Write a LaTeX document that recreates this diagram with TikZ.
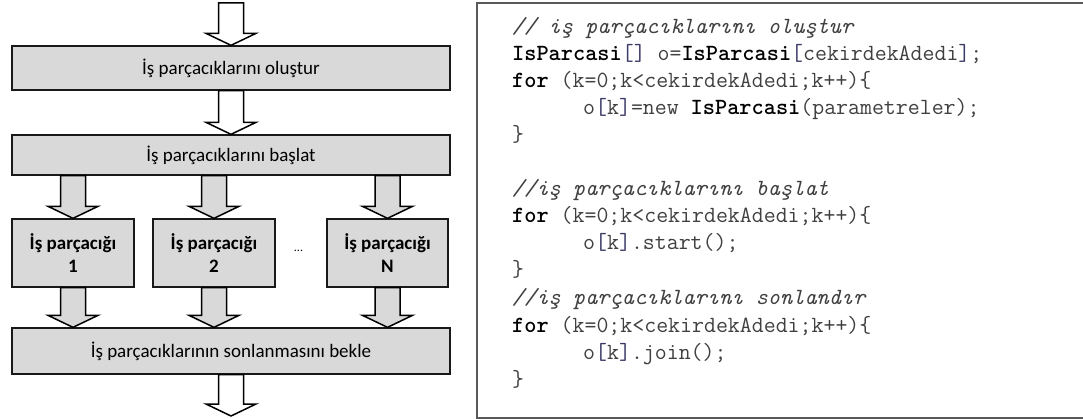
\documentclass[tikz,border=0pt]{standalone}
\usepackage{fontspec}
\setmainfont{Carlito}
\usepackage{xcolor}
\usetikzlibrary{positioning,calc}

\definecolor{boxgray}{HTML}{D9D9D9}
\definecolor{codegray}{HTML}{404040}
\definecolor{codebrack}{HTML}{3A3A66}

\newcommand{\kw}[1]{\textbf{\color{black}#1}}
% block arrow: shaft at the x of #2, tip at #3
\newcommand{\blockarrow}[3][white]{%
  \draw[blockarr, fill=#1] let \p1=(#2), \p2=(#3) in
    (\x1-12.5pt,\y1) -- (\x1-12.5pt,\y2+12pt) -- (\x1-25pt,\y2+12pt) -- (\x1,\y2)
    -- (\x1+25pt,\y2+12pt) -- (\x1+12.5pt,\y2+12pt) -- (\x1+12.5pt,\y1) -- cycle;}

\tikzset{
  stepbox/.style={draw=black!90, fill=boxgray, line width=1.3pt, inner sep=0pt,
    minimum width=438pt, font=\fontsize{19}{23}\selectfont, align=center},
  threadbox/.style={stepbox, minimum width=122pt, minimum height=68pt,
    font=\bfseries\fontsize{19}{23}\selectfont},
  blockarr/.style={draw=black, line width=1.5pt, line join=miter},
  codeline/.style={anchor=base west, inner sep=0pt,
    font=\ttfamily\fontsize{23.2}{27}\selectfont, text=codegray},
  codeframe/.style={draw=black!65, line width=1.6pt},
}

\begin{document}
\begin{tikzpicture}[x=1pt,y=-1pt]
  \useasboundingbox (0,0) rectangle (1083,419);

  % flow chart
  \node[stepbox, minimum height=44pt] (create) at (231,68) {İş parçacıklarını oluştur};
  \node[stepbox, minimum height=40pt] (start) at (231,155) {İş parçacıklarını başlat};
  \node[threadbox] (th1) at (73,253) {İş parçacığı\\1};
  \node[threadbox] (th2) at (214,253) {İş parçacığı\\2};
  \node[threadbox, minimum width=121pt] (thN) at (387.5,253) {İş parçacığı\\N};
  \node[font=\fontsize{12}{12}\selectfont] (dots) at (298.5,251) {...};
  \node[stepbox, minimum height=46pt] (wait) at (231,351) {İş parçacıklarının sonlanmasını bekle};

  \coordinate (in) at (231,3);
  \coordinate (out) at (231,416);

  \blockarrow{in}{create.north}
  \blockarrow{create.south}{start.north}
  \blockarrow[boxgray]{start.south -| th1.center}{th1.north}
  \blockarrow[boxgray]{start.south -| th2.center}{th2.north}
  \blockarrow[boxgray]{start.south -| thN.center}{thN.north}
  \blockarrow[boxgray]{th1.south}{wait.north -| th1.center}
  \blockarrow[boxgray]{th2.south}{wait.north -| th2.center}
  \blockarrow[boxgray]{thN.south}{wait.north -| thN.center}
  \blockarrow{wait.south}{out}

  % code listing
  \draw[codeframe] (1095,3) -- (477,3) -- (477,418) -- (1095,418);

  \node[codeline] (l0) at (512,34) {\itshape // iş parçacıklarını oluştur};
  \node[codeline] (l1) at (512,61) {\kw{IsParcasi}\textcolor{codebrack}{[]} o=\kw{IsParcasi}\textcolor{codebrack}{[}cekirdekAdedi\textcolor{codebrack}{]};};
  \node[codeline] (l2) at (512,88) {\kw{for} (k=0;k<cekirdekAdedi;k++)\{};
  \node[codeline] (l3) at (583,115) {o\textcolor{codebrack}{[}k\textcolor{codebrack}{]}=new \kw{IsParcasi}(parametreler);};
  \node[codeline] (l4) at (512,142) {\}};
  \node[codeline] (l6) at (512,196) {\itshape //iş parçacıklarını başlat};
  \node[codeline] (l7) at (512,223) {\kw{for} (k=0;k<cekirdekAdedi;k++)\{};
  \node[codeline] (l8) at (583,250) {o\textcolor{codebrack}{[}k\textcolor{codebrack}{]}.start();};
  \node[codeline] (l9) at (512,277) {\}};
  \node[codeline] (l10) at (512,305) {\itshape //iş parçacıklarını sonlandır};
  \node[codeline] (l11) at (512,332) {\kw{for} (k=0;k<cekirdekAdedi;k++)\{};
  \node[codeline] (l12) at (583,359) {o\textcolor{codebrack}{[}k\textcolor{codebrack}{]}.join();};
  \node[codeline] (l13) at (512,386) {\}};
\end{tikzpicture}
\end{document}
